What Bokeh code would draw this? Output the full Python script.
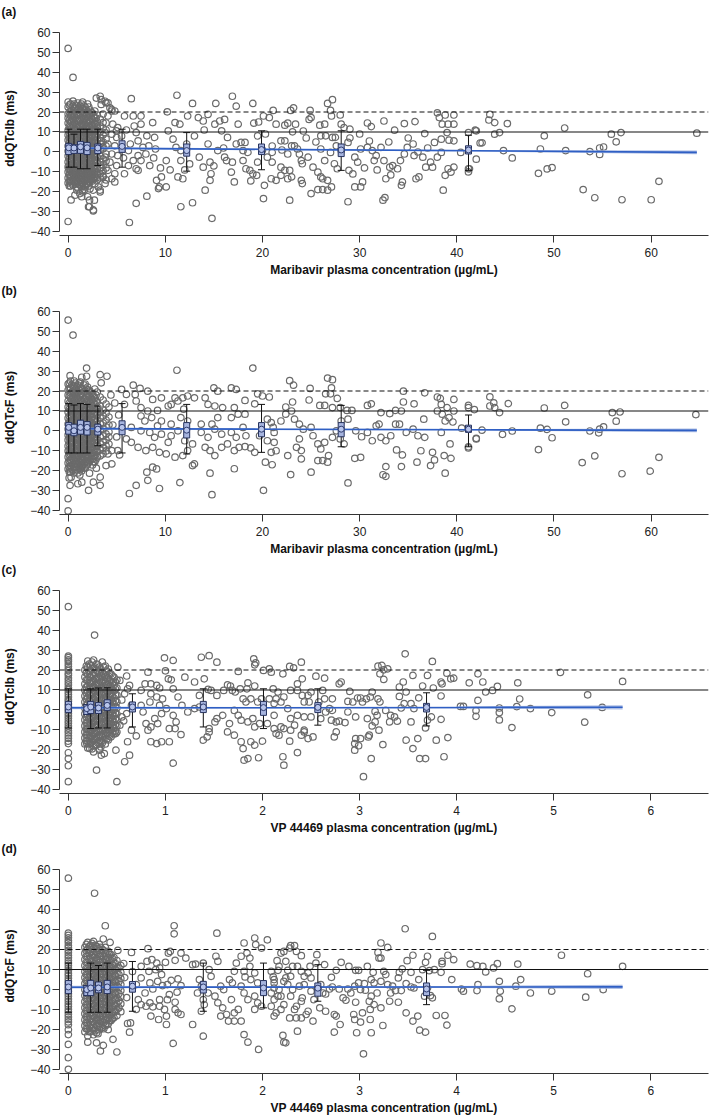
from bokeh.plotting import figure
from bokeh.layouts import column
from bokeh.models import Range1d, FixedTicker, Span
from bokeh.embed import file_html
from bokeh.resources import INLINE

FONT = "Liberation Sans"

# ---------------- Panel (a): ddQTcIb vs maribavir ----------------
a_dense = {
    0.0: [25, 22.5, 19, 17, 14.5, 11, 8.5, 6, 3, 0.5, -2, -5, -7.5, -10, -13, -15.5],
    0.25: [24, 20.5, 18, 15, 12.5, 10, 7, 4, 1.5, -1, -4, -6.5, -9, -12, -14.5, -17],
    0.5: [25.5, 23, 19.5, 16.5, 13.5, 11.5, 8, 5, 2.5, -0.5, -3, -6, -8.5, -11, -14, -16.5],
    0.75: [22, 20, 17, 14, 11, 9, 6.5, 3.5, 0, -2.5, -5.5, -8, -10.5, -13.5, -16],
    1.0: [24.5, 21, 18.5, 15.5, 12, 10, 7.5, 4.5, 1, -1.5, -4.5, -7, -9.5, -12.5, -15, -18],
    1.25: [23, 19.5, 16, 13, 11, 8, 5.5, 2, -0.5, -3.5, -6, -9, -11.5, -14, -16.5],
    1.5: [25, 21.5, 18, 15, 12.5, 9.5, 6.5, 3.5, 1, -2, -5, -7.5, -10.5, -13, -15.5, -19],
    1.75: [22.5, 19.5, 16.5, 14, 10.5, 8, 5, 2.5, -1, -4, -6.5, -9, -12, -14.5, -17.5],
    2.0: [24, 20, 17.5, 14.5, 12, 9, 6, 3, 0.5, -2.5, -5.5, -8.5, -11, -13.5, -16],
    2.25: [21, 18, 15.5, 12.5, 10, 7, 4, 1.5, -1.5, -4.5, -7.5, -10, -13, -15, -18.5],
    2.5: [19.5, 16, 13.5, 11, 8.5, 5.5, 2.5, 0, -3, -6, -9, -11.5, -14.5],
    2.75: [20.5, 17, 14, 10.5, 7.5, 4.5, 2, -1, -4, -7, -10, -12.5, -16],
    3.0: [18.5, 15, 12, 9, 6, 3.5, 0.5, -2.5, -5.5, -8.5, -11.5, -14],
    3.3: [16.5, 13, 10, 7, 4, 1, -2, -5, -8, -11, -13],
    3.6: [19, 12, 8.5, 5, 2.5, -3.5, -6.5, -9.5, -12],
    3.9: [14.5, 11, 6.5, 3, -1, -4.5, -8, -14],
}
a_dense2 = {
    0.125: [23.5, 20, 16, 13, 9.5, 7, 4.5, 1.5, -1, -3.5, -6.5, -9, -11.5, -14.5, -17],
    0.375: [21, 18.5, 15.5, 12, 9, 5.5, 3, 0, -2.5, -5, -8, -10.5, -13, -15.5],
    0.625: [24, 21.5, 18, 15, 11.5, 8.5, 6, 2, -1, -4, -7, -9.5, -12.5, -15],
    0.875: [23, 19, 16, 12.5, 10, 7.5, 4.5, 1.5, -1.5, -4, -7, -9.5, -12, -14.5, -17.5],
    1.125: [22, 20, 16.5, 13.5, 9, 6, 3, 0, -3, -5.5, -8, -11, -13.5, -16],
    1.375: [24, 20.5, 17, 14, 10.5, 7, 4.5, 1.5, -1.5, -4.5, -7, -10, -12.5, -15, -17.5],
    1.625: [23, 19.5, 16.5, 13.5, 10.5, 8, 4, 0.5, -3, -6, -9, -11.5, -14, -16.5],
    1.875: [21, 18, 15, 12, 9.5, 6.5, 3.5, 0, -2.5, -5.5, -8, -10.5, -13, -16],
    2.125: [22.5, 19, 16, 13, 10.5, 7.5, 4.5, 2, -1, -3.5, -6.5, -9.5, -12, -14.5, -17],
    2.375: [20, 17, 13.5, 11, 8, 5, 2.5, -0.5, -3, -6, -8.5, -11.5, -14],
    2.625: [18, 15, 12, 9.5, 6.5, 3.5, 1, -2, -5, -8, -10.5, -13.5],
    2.875: [17, 13.5, 11, 8, 5, 1.5, -1.5, -4.5, -7.5, -10, -13],
}
a_low = [
    (0, 51.8), (0.5, 37.3), (0, -34.8), (0.3, -24), (2, -22.4), (2.2, -24.1), (2.1, -27.4), (2.6, -29.5),
    (1.5, -20), (1.2, -20.8), (0.9, -19.1), (0.7, -21.6), (1.4, -22.4), (2.9, 27), (3.3, 27.9), (3.8, 25.4),
    (4.1, 24.6), (4.3, 22.1), (4.5, 20.5), (3.4, 23.8), (4.8, 20.5), (3.4, 26.2), (3.9, 24.6), (4.5, 21.3),
    (4.1, 18), (3.6, 14.7), (4.6, 13.9), (5.1, 12.2), (3.8, 9.7), (4.5, 8.9), (5, 7.3), (3.4, 5.6), (4.1, 4),
    (4.8, 3.1), (3.6, 1.5), (4.5, -1), (5.1, -1.8), (3.8, -2.6), (4.3, -5.1), (5, -6.8), (3.4, -7.6),
    (4.1, -9.2), (4.8, -10.9), (3.6, -12.5), (4.5, -13.4), (3.8, -15.8), (3.3, -19.1), (2.7, -24.1),
    (2.2, -27.4), (2.6, -29), (1.7, -19.1), (4.97, 10.6), (4.8, -15), (3.1, -17.5), (3.3, -20), (2.6, -19.1),
    (6.5, 26.7), (5.8, 18), (6.7, 18), (7.5, 18), (8.7, 14.7), (7.5, 13.9), (7, 9.7), (8.1, 8.1), (8.9, 7.3),
    (7.2, 5.6), (6.4, 4), (7.7, 2.3), (8.3, 3.1), (6.2, 0.7), (7.2, -1.8), (6.7, -4.3), (7.5, -4.3),
    (6.2, -6.8), (7, -8.4), (8.4, -6.8), (5.8, -10.9), (7.2, -9.2), (7, -25.7), (6.3, -35.3), (8.1, -22.1),
    (9.1, -14.2), (9.6, -12.5), (9.3, -18.3), (9.4, -17.5), (10.1, -17.5), (10.1, -4.3), (10.3, 10.6),
    (10.2, 20.1), (11.2, 28.4), (10.8, 6.4), (11, 14.7), (11.5, 13.9), (11.1, 2.3), (11.6, 0.7), (12.2, 4),
    (11.6, -4.3), (11.3, -12.5), (11.8, -13.4), (11.6, -27.4), (12.8, -25.4), (12.8, 24.3), (12.3, 18),
    (13.4, 17.2), (13.9, 15.5), (14.4, 18.8), (15.2, 24.3), (15.1, 13.9), (15.6, 15.5), (16.1, 16.3),
    (15.8, 10.6), (16.4, 7.3), (14.4, 4), (13.5, -2.6), (13.9, -7.6), (14.6, -5.1), (14.7, -10.9),
    (14.6, -14.2), (14.1, -19.1), (14.8, -33.2), (15.4, 0.7), (16.1, -2.6), (16.3, -4.3), (16.9, -5.1),
    (16.8, -10.1), (17.1, -15), (16.9, 27.9), (17.3, 22.9), (17.5, 13.9), (17.3, 4),
    (5.5, 8), (6, 11), (5.7, -3), (6.8, 13), (8, -1), (9, 1.5), (9.5, -8), (8.8, -3), (10.5, -9),
    (12.5, -6), (13, 8), (12, -9), (14, 11), (15, -7), (16, 2),
]
a_mid = [
    (19, 24.3), (21.1, 20.8), (23.2, 22.1), (22.9, 20.8), (24.9, 20.8), (26.7, 24.3), (27.2, 26.2), (27, 20.8),
    (27.1, 18), (26.4, 13.9), (28, 18.5), (25, 17.2), (20.1, 18), (20.7, 17.2), (19.1, 14.4), (19.6, 15),
    (21.4, 13.9), (22.3, 13.4), (22.6, 14.4), (23.1, 10.1), (23.4, 13.9), (24.8, 16.3), (25.9, 13.4), (26, 8.1),
    (26.5, 8.1), (27.2, 7.3), (27.5, 7.3), (28.1, 13.9), (28.4, 12.2), (29, 11.4), (30.8, 14.5), (31.2, 12.7),
    (32.5, 15.5), (33.6, 10.9), (34.6, 14.2), (35.7, 15.2), (36.7, 9.2), (38, 19.6), (38.2, 17.2), (38.5, 13.9),
    (39.1, 13.9), (39.7, 13.9), (39.7, 18.5), (38.8, 18.5), (39, 9.7), (38.4, 6.4), (39.2, 5.9), (37.7, 4.8),
    (39.7, 5.6), (40.4, -0.2), (42, 10.6), (42.4, 4.5),
    (17.8, 4.8), (18.2, 4.8), (18, 0.7), (18.5, -0.2), (18, -4.3), (18.3, -8.4), (18.7, -9.2), (19, -10.9),
    (19.4, -11.7), (18.8, -14.5), (20.2, -16.7), (20.1, -23.3), (19.5, -5.1), (20.5, -2.6), (21, -0.2),
    (21, -5.1), (20.9, -13.4), (21.4, -14.2), (21.9, 5.6), (22.3, 5.6), (22.6, -1), (23, 3.1), (23.3, 3.1),
    (23.6, 1.5), (23.8, -1), (24, -4.3), (24.1, -5.9), (21.9, -7.6), (22.3, -9.2), (22.8, -9.2), (21.9, -11.7),
    (22.6, -13.4), (23, -12.5), (22.8, -24.1), (24, -14.2), (24.1, -15.8), (25, -20.8), (24.7, -2.6),
    (25.2, -7.6), (25.7, -10.1), (26, -12.5), (26.2, -13.4), (25.7, -18.8), (26.2, -18.8), (26.7, -19.1),
    (27.1, -17.5), (26.7, -14.2), (26.4, -4.3), (27, -0.2), (27.6, 3.1), (27.4, -5.9), (27.7, -8.4),
    (28.1, 0.7), (28.8, 4.8), (28.9, -9.2), (28.8, -24.9), (29.5, -17.5), (30.1, -17.5), (29.5, -2.6),
    (29.8, -5.1), (30.3, -15), (30.1, 1.5), (30.8, 2.3), (31.3, 0.7), (31.5, -4.3), (31.7, -1.8), (32.2, 2.3),
    (32.5, -4.3), (32.7, -13.4), (32.4, -24.1), (32.6, -22.8), (33.1, -7.6), (33.4, -6.8), (33.9, -8.4),
    (34.2, -4.3), (34.3, -16.7), (34.4, -15), (34.6, -1), (34.9, 2.3), (35.6, -1.8), (35.8, -13.4),
    (36.1, -12.5), (36.5, -2.6), (36.8, -7.6), (37.3, -5.1), (37.5, -7.6), (38, -2.6), (38.4, -0.2),
    (38.8, -11.7), (38.6, -19.1), (39.4, -10.1), (39.1, -8.4), (39.7, -7.6), (41.3, -8.4),
    (19.5, 8), (20.3, 9), (21, 3), (22, 1), (24.5, 7), (25.5, 5), (26, 1.5), (29, 7), (30, 9), (31, 5.5),
    (33, 5), (35, 7), (35.5, 4), (36, 0), (37, 2), (29.3, -11), (30.5, -8), (31.8, -9), (33.2, -11.5),
    (20, 1), (24.2, 10.5),
]
a_high = [
    (41.2, 9.7), (41.2, -8.4), (41.2, -10), (41.9, 10.9), (42, -3.6), (42.6, 4.6), (43.3, 16), (43.4, 18.8),
    (43.9, 14.7), (43.9, 8.9), (44.4, 9.7), (44.8, 0.7), (45.2, 14.2), (45.7, -3), (48.4, -10.7), (48.6, 1.5),
    (49, 8.1), (49.3, -8.5), (49.8, -7.8), (51.1, 12), (51.2, 0.7), (53, -18.8), (53.7, 0.2), (54.2, -22.9),
    (54.7, 2), (54.7, -1.2), (55.1, 2.5), (55.9, 8.9), (56.4, 5.1), (56.9, 9.7), (57, -23.9), (60, -23.9),
    (60.8, -14.7), (64.7, 9.4),
]
a_bin_x = [0.06, 0.6, 1.27, 1.95, 3.05, 5.55, 12.2, 19.9, 28.1, 41.2]
a_mean = [2.1, 2.0, 2.6, 2.1, 2.0, 2.8, 0.7, 1.2, 1.0, 1.0]
a_box_lo = [-1.3, -0.7, -0.7, -1.3, -0.8, -0.2, -2.1, -1.3, -2.3, -1.0]
a_box_hi = [4.3, 3.6, 5.3, 4.8, 4.0, 5.6, 4.0, 4.0, 4.0, 3.1]
a_wh_lo = [-7.6, -7.6, -8.4, -8.4, -6.8, -7.6, -9.6, -8.9, -9.2, -9.2]
a_wh_hi = [11.4, 8.9, 11.4, 11.4, 11.4, 11.4, 9.7, 10.6, 10.6, 8.4]
a_reg_x = [0, 20, 42, 64.7]
a_reg_y = [2.0, 1.3, 0.6, -0.2]
a_reg_lo = [1.4, 0.95, 0.2, -1.1]
a_reg_hi = [2.6, 1.65, 1.0, 0.7]

# ---------------- Panel (b): ddQTcF vs maribavir ----------------
b_dense = {
    0.0: [23.5, 20.5, 18, 15, 12, 9.5, 6.5, 3.5, 1, -2, -4.5, -7.5, -10, -13, -16, -19],
    0.25: [25, 21.5, 19, 16.5, 13.5, 10.5, 8, 5, 2, -0.5, -3.5, -6, -9, -11.5, -14.5, -17.5, -20.5],
    0.5: [22.5, 20, 17, 14, 11.5, 8.5, 5.5, 3, 0, -3, -5.5, -8.5, -11, -14, -17, -19.5],
    0.75: [24, 21, 18.5, 15.5, 12.5, 9.5, 7, 4, 1.5, -1.5, -4.5, -7, -10, -12.5, -15.5, -18],
    1.0: [23, 19.5, 16.5, 13.5, 11, 8, 5, 2.5, -0.5, -3.5, -6.5, -9, -12, -14.5, -17, -21],
    1.25: [24.5, 22, 18, 15, 12.5, 9, 6, 3.5, 0.5, -2, -5, -8, -10.5, -13.5, -16, -19],
    1.5: [21, 17.5, 14.5, 11.5, 8.5, 6, 3, 0, -3, -6, -8.5, -11.5, -14, -17.5],
    1.75: [23.5, 20, 16, 13, 10, 7.5, 4.5, 1.5, -1.5, -4, -7, -10, -13, -15.5, -18.5],
    2.0: [22, 18.5, 15.5, 12, 9, 6.5, 4, 1, -2, -5, -7.5, -10.5, -13.5, -16.5],
    2.25: [20, 17, 14, 11, 8, 5, 2, -1, -4, -6.5, -9.5, -12.5, -15],
    2.5: [18.5, 15.5, 12.5, 10, 7, 4, 1.5, -2.5, -5.5, -8.5, -11, -14, -17],
    2.75: [21, 16.5, 13.5, 9.5, 6, 3, 0, -3, -6, -9.5, -12.5, -15.5],
    3.0: [19.5, 14.5, 11, 8, 5, 2, -1, -4.5, -7.5, -10.5, -13],
    3.3: [17, 12.5, 9.5, 6.5, 3.5, 0.5, -3, -6.5, -9.5, -12.5],
    3.6: [15.5, 10.5, 7.5, 4, 1, -2.5, -5.5, -8.5, -11.5],
    3.9: [13.5, 9, 5.5, 2, -1.5, -4.5, -7.5, -10],
    4.2: [12, 7, 3, -0.5, -3, -6.5],
}
b_dense2 = {
    0.125: [24, 21, 17.5, 14, 11, 7.5, 4.5, 2, -1, -3.5, -6.5, -9.5, -12, -15, -18, -20.5],
    0.375: [23, 19.5, 16, 13, 10, 7, 4, 1, -2, -5, -8, -10.5, -13.5, -16, -19],
    0.625: [25, 21.5, 18, 15, 12, 9, 6, 3, 0, -3, -6, -9, -12, -15, -18],
    0.875: [22, 19, 16, 13, 10, 7, 4.5, 1.5, -1.5, -4.5, -7.5, -10.5, -13.5, -16.5, -19.5],
    1.125: [24, 20.5, 17.5, 14.5, 11.5, 8.5, 5.5, 2.5, -1, -4, -7, -10, -12.5, -15.5, -18],
    1.375: [21.5, 18.5, 15.5, 12.5, 9.5, 6.5, 3.5, 0.5, -2.5, -5.5, -8.5, -11.5, -14.5, -17.5, -20],
    1.625: [23, 19.5, 16, 13, 10, 7, 4.5, 1.5, -1.5, -4.5, -7.5, -10, -13, -16, -18.5],
    1.875: [21, 17.5, 14.5, 11.5, 8.5, 5.5, 2.5, -0.5, -3.5, -6.5, -9.5, -12, -15, -17.5],
    2.125: [20.5, 17.5, 14.5, 11.5, 8.5, 5.5, 2.5, -0.5, -3.5, -6.5, -9.5, -12.5, -15.5],
    2.375: [19, 16, 13, 10, 7, 4, 1, -2, -5, -8, -11, -14],
    2.625: [17.5, 14.5, 11.5, 8.5, 5.5, 2.5, -0.5, -3.5, -6.5, -9.5, -12.5, -15.5],
    2.875: [18, 15, 11.5, 8, 4.5, 1.5, -1.5, -4.5, -7.5, -10.5, -14],
}
b_low = [
    (0, 55.5), (0.5, 48), (0, -33.9), (0, -40), (1.9, 31.5), (1.9, 27.4), (3.3, 28.2), (4, 27.4), (3.4, 24.1),
    (1.4, 26.9), (0.2, 27.7), (0.3, -23.1), (0.2, -27.2), (1, -26.4), (1.4, -25.6), (2.2, -21.1),
    (2.1, -29.7), (2.6, -25.6), (3.3, -27.2), (3.3, -23.1), (3.9, -17.3), (2.9, -18.6), (4.1, -11.5),
    (4.5, -9.8), (0.1, -23.5), (0.6, -21), (1.2, -22), (4.5, -16.5), (5.1, -9.8), (4.8, 14), (5.2, 8),
    (4.6, 3), (5, -3), (5.3, -12), (4.4, 18),
    (11.2, 30.4), (6.7, 22.9), (7.4, 21.3), (8.2, 19.9), (5.5, 20.8), (6, 18.3), (6.9, 18.3), (7, 15),
    (8.7, 15.8), (9.6, 16.6), (11, 16.6), (11.8, 16.6), (12.3, 17.5), (13, 16.6), (14.1, 16.6), (15, 21.6),
    (15.4, 19.9), (16.8, 21.6), (17.3, 20.8), (5.8, 13.3), (7.5, 11.7), (8.2, 10), (9.2, 10.3), (10.3, 12.5),
    (10.6, 13.3), (11.3, 15), (11.9, 10.9), (14.4, 13.3), (15.1, 12.5), (15.9, 11.7), (17.1, 11.7),
    (7.5, 7.5), (8.6, 6.7), (9.6, 5), (10.6, 3.4), (7.9, 5), (9.2, 2.6), (11.6, 6.7), (12.3, 5), (13.7, 3.4),
    (14.8, 3.4), (15.4, 6.7), (16.8, 6.7), (17.5, 8.4), (6.5, 1.8), (7.5, 0.1), (8.4, -0.7), (9.6, -1.6),
    (10.6, -2.4), (11.3, 0.1), (8.9, -3.2), (10.3, -5.7), (12, -4.9), (12.8, -6.5), (13.7, -0.7),
    (14.4, -3.2), (15.1, 0.9), (15.8, -1.6), (16.8, -0.7), (17.3, -3.2), (6, -4), (6.5, -5.7), (7.2, -8.2),
    (8, -9.8), (8.7, -8.2), (9.4, -10.7), (10.1, -11.5), (11, -13.1), (11.8, -12.3), (12.3, -9.8),
    (13, -16.5), (12.8, -17.3), (14.1, -8.2), (14.6, -9.8), (15.1, -12.3), (15.8, -8.2), (16.4, -6.5),
    (17.1, -9.8), (17.6, -8.2), (8.1, -20.6), (8.7, -18.1), (9.1, -19), (9.4, -28.8), (8.2, -24.7),
    (7, -27.2), (6.3, -31.3), (11.5, -25.8), (14.6, -21.1), (14.8, -31.9), (17.1, -18.9),
]
b_mid = [
    (19, 31.5), (22.8, 25.2), (23.2, 22.9), (24.9, 21.3), (26.7, 26.5), (27.2, 25.7), (27.1, 21.6), (27, 18.6),
    (26.5, 18.6), (27.7, 16.3), (19.5, 18.6), (20, 17.5), (20.7, 17), (24.8, 15.5), (34.5, 19.9), (36.7, 19.1),
    (38, 17), (38.3, 16.3), (39.7, 15.8), (34.5, 14.5), (35.6, 13.6), (19.2, 13.6), (18.2, 15.3), (22.4, 12),
    (23.1, 14.5), (25.9, 12.8), (26.4, 12.8), (27.2, 11.7), (28, 11.7), (28.7, 10.3), (29.2, 10.3),
    (30.8, 12.8), (31.2, 13.6), (32.2, 9.2), (33.1, 8.7), (33.7, 10.3), (34.3, 10), (38.4, 13.3), (38, 10),
    (38.5, 8.4), (39, 11.7), (39.2, 6.7), (38.8, 5), (39.6, 4.5), (39.7, 10), (18.2, 8.4), (18, 1.8),
    (18.3, -2.4), (18.2, -7.8), (18.8, -8.5), (19.2, -10.7), (19.7, -2.4), (20.5, 5.9), (20.9, 4.2),
    (21.1, 1.8), (21.2, -0.7), (20.5, -4.9), (21.2, -5.7), (20.9, -10.7), (21.4, -9.9), (20.3, -15.6),
    (21, -16.9), (20.1, -29.7), (21.9, 5), (22.4, 8.4), (23, 10), (23.3, 5.9), (23.8, 3.4), (24.2, 0.9),
    (23.8, -4), (23.5, -8.2), (24, -9.8), (24, -14), (22.6, -12.3), (22.9, -21.8), (25, 1.8), (25.2, -2.4),
    (25.7, -6.5), (26, -9), (26.4, -5.7), (26.8, -12.3), (26.2, -14.8), (25.7, -14.8), (26.7, -15.6),
    (25, -20.6), (27.2, -3.2), (27.6, 0.1), (28, -4), (28.1, 5), (28.8, 5.9), (28.4, -6.5), (28.8, -26),
    (29.5, -13.7), (30.1, -13.2), (29.6, 0.1), (30.2, -2.9), (30.8, -0.7), (31.3, -4.9), (31.7, 2.6),
    (32, 3.4), (32.2, -3.2), (32.7, -4.9), (32.4, -21.9), (32.7, -22.7), (32.7, -17.8), (33.2, -2.4),
    (33.7, 3.4), (34.1, 3.4), (33.8, -9.5), (34.4, -12), (34.3, -17.8), (34.8, -0.7), (35.5, 0.9),
    (36, -2.4), (35.9, -15.6), (36.3, -9.9), (36.6, 5.9), (36.7, -3.2), (37.3, -17.3), (37.5, -10.7),
    (37.7, -14.5), (38.4, -0.7), (38.7, -12.3), (39.3, -6.5), (38.8, -21.1), (39.4, -13.7), (40.5, 1.4),
    (42, -3.7),
]
b_high = [
    (41.2, 12.8), (41.2, 11.7), (41.2, -7.9), (41.2, -8.5), (41.8, 10.7), (42, -4), (42.6, 0.4),
    (43.4, 17.1), (43.4, 12.5), (43.8, 14.1), (43.9, 11.7), (44.4, 9.2), (44.7, -1.7), (45.3, 13.7),
    (45.7, 0), (48.4, -9.3), (48.6, 1.4), (49, 11.5), (49.3, 0.8), (49.8, -3.4), (51.1, 12.8), (51.2, 4.6),
    (52.9, -15.8), (53.7, 0), (54.2, -12.5), (54.6, -0.9), (54.7, 0.9), (55.1, 2.1), (56, 9.2), (56.4, 4.9),
    (56.8, 9.5), (57, -21.4), (59.9, -20.1), (60.8, -13.2), (64.6, 8.2),
]
b_bin_x = [0.06, 0.6, 1.27, 1.95, 3.05, 5.55, 12.2, 19.9, 28.1, 41.2]
b_mean = [1.8, 0.1, 1.8, 1.8, 0.9, 1.8, 0.4, 0.9, 0.9, 0.9]
b_box_lo = [-1.6, -2.4, -1.6, -2.0, -2.0, -1.9, -3.5, -2.9, -2.9, -0.7]
b_box_hi = [4.2, 3.4, 5.4, 4.7, 3.4, 5.1, 4.2, 4.2, 4.2, 2.9]
b_wh_lo = [-11, -11, -11, -11, -7.4, -11, -11.5, -10.7, -7.9, -7.9]
b_wh_hi = [13.7, 13, 13.7, 13.3, 12.5, 13.7, 13.3, 13.3, 12.8, 8]
b_reg_x = [0, 20, 42, 64.7]
b_reg_y = [1.2, 0.9, 0.6, 0.3]
b_reg_lo = [0.6, 0.55, 0.2, -0.6]
b_reg_hi = [1.8, 1.25, 1.0, 1.2]

# ---------------- Panel (c): ddQTcIb vs VP 44469 ----------------
c_dense = {
    0.0: [27, 26.2, 25.1, 24.3, 23, 21.8, 20.5, 19.7, 18.2, 17.4, 16, 14.9, 13.6, 12.5, 11.1, 10.3, 9, 7.8,
          6.5, 5.2, 4.4, 3, 1.9, 0.6, -0.5, -1.8, -3, -4.2, -5.5, -6.6, -8, -9.1, -10.4, -11.5, -12.9,
          -14.2, -15.6, -16.8, 51.7, -21.4, -24.3, -27.9, -35.9],
    0.17: [20, 16.5, 13, 10, 7, 4, 1, -2, -5, -8, -11, -14, -17],
    0.20: [24.5, 21.5, 18, 15, 12, 9, 6, 3, 0, -3, -6.5, -9.5, -12.5, -15.5, -19],
    0.23: [22.5, 19.5, 16.5, 13.5, 10.5, 7.5, 4.5, 1.5, -1.5, -4.5, -7.5, -10.5, -13.5, -16.5],
    0.26: [25, 21, 17.5, 14.5, 11.5, 8.5, 5.5, 2.5, -0.5, -3.5, -6, -9, -12, -15, -18, -21],
    0.29: [23, 20, 16, 13, 10, 7, 4, 1, -2, -5, -8, -11, -14, -17.5],
    0.32: [21.5, 18.5, 15, 12, 9, 6, 3, 0, -3, -6, -9.5, -12.5, -15.5, -19.5],
    0.35: [24, 19, 16.5, 13.5, 10.5, 7.5, 4.5, 1.5, -1.5, -4.5, -7.5, -10.5, -13.5, -16.5],
    0.38: [22, 17.5, 14, 11, 8, 5, 2, -1, -4, -7, -10, -13, -17],
    0.41: [20.5, 16, 12.5, 9.5, 6.5, 3.5, 0.5, -2.5, -5.5, -8.5, -11.5, -15],
    0.44: [18, 14.5, 11, 8, 5, 2, -1, -4, -7, -10, -13.5],
    0.47: [16.5, 12.5, 9.5, 6, 3, 0, -3, -6, -9, -12],
    0.50: [15, 11, 7.5, 4, 1, -2, -5, -8, -11],
}
c_dense2 = {
    0.185: [22, 18.5, 15, 11.5, 8.5, 5.5, 2.5, -0.5, -3.5, -6.5, -9.5, -12.5, -15.5],
    0.215: [23, 19.5, 16.5, 13.5, 10.5, 7.5, 4.5, 1.5, -1.5, -4.5, -8, -11, -14, -17],
    0.245: [24, 20.5, 17.5, 14, 11, 8, 5, 2, -1, -4, -7, -10, -13, -16, -19.5],
    0.275: [21.5, 18.5, 15.5, 12.5, 9.5, 6.5, 3.5, 0.5, -2.5, -5.5, -8.5, -11.5, -14.5, -17.5],
    0.305: [22.5, 19.5, 16.5, 13.5, 10.5, 7.5, 4.5, 1.5, -1.5, -4.5, -7.5, -10.5, -13.5, -16.5],
    0.335: [20.5, 17, 14, 11, 8, 5, 2, -1, -4, -7, -10, -13, -16, -18.5],
    0.365: [21.5, 18, 15, 12, 9, 6, 3, 0, -3, -6, -9, -12, -15],
    0.395: [19.5, 16, 12.5, 9.5, 6.5, 3.5, 0.5, -2.5, -5.5, -8.5, -11.5, -14.5],
    0.425: [18, 14.5, 11, 8, 5, 2, -1, -4, -7, -10, -13],
    0.455: [17, 13, 10, 7, 4, 1, -2, -5, -8, -11.5],
    0.485: [14, 10.5, 7.5, 4.5, 1.5, -1.5, -4.5, -7.5, -10.5],
}
c_low = [
    (0.27, 37.5), (0.99, 26.1), (1.08, 24.8), (1.37, 26.4), (1.45, 27.2), (1.53, 23.9), (1.91, 25.6),
    (1.93, 23.6), (2.01, 19.8), (2.07, 20.6), (1.92, 22.6), (1.75, 19.3), (1.0, 19.6), (0.82, 18.9),
    (1.2, 16.4), (1.3, 14), (0.79, 13.1), (0.85, 13.1), (0.91, 12.3), (0.94, 11), (1.03, 15.6), (1.06, 15.1),
    (1.08, 10.6), (0.75, 9.8), (0.85, 8.1), (1.13, 6.5), (1.17, 2.3), (1.23, -1), (1.3, 0.7), (1.35, 1.5),
    (1.35, 7.3), (1.44, 10.3), (1.47, 9.8), (1.4, 15.6), (1.53, 7.3), (1.6, 9.8), (1.64, 12.6), (1.67, 12),
    (1.69, 9.8), (1.72, 9), (1.77, 10.6), (1.85, 13.6), (1.84, 10.6), (1.92, 12), (1.8, 5.6), (1.83, 4),
    (1.88, 5.6), (1.95, 4), (1.99, 5.6), (2.07, 5.6), (2.11, 10.6), (1.71, -0.2), (1.75, -2.7), (1.78, -5.1),
    (1.85, -6), (1.9, -4.3), (1.92, -8.5), (1.97, -6.8), (2.05, -6.8), (1.66, -6.8), (1.59, -2.7),
    (1.53, -4.3), (1.51, -6), (1.45, -9.3), (1.39, -15.1), (1.43, -13.5), (1.45, -11), (1.64, -11),
    (1.71, -12.6), (1.78, -15.9), (1.8, -19.3), (1.81, -25.1), (1.85, -24.3), (1.96, -23.9), (1.88, -15.9),
    (1.92, -17.6), (2.0, -15.6), (1.08, -26.6), (0.96, -15.9), (0.91, -16.8), (0.85, -15.9), (1.04, -15.9),
    (1.16, -12.3), (1.1, -9.3), (1.04, -9.3), (1.11, -6), (1.08, -2.7), (0.96, -1.8), (0.89, -4.3),
    (0.92, -6.8), (0.85, -8.5), (0.82, -10.1), (0.8, -6.8), (0.77, -1), (0.75, 2.3), (0.84, 4), (0.94, 2.3),
    (0.97, 5.6), (1.01, 0.7), (0.91, 6.5), (0.65, 2.3), (0.61, -15.9), (0.63, -22.6), (0.58, -25.9),
    (0.5, -35.9), (0.65, -10.1), (0.55, -3.5), (0.6, -1.8), (0.61, 10.6), (0.63, 12.3), (0.58, 8.1),
    (0.53, 14.8), (0.51, 21.4), (0.46, 14), (0.43, -9.3), (0.49, -11.8), (0.53, -7.6), (0.49, -20.1),
    (0.29, -30.1), (0.34, -22.6), (0.37, -21.8), (0.32, -20.1), (0.2, -9.3), (0.19, -16.8), (0.22, -19.3),
    (0.55, 5), (0.57, -5.5), (0.6, 17), (0.7, -13),
]
c_high = [
    (3.47, 28.1), (3.75, 24.3), (2.28, 21.8), (2.32, 21.1), (2.4, 23.9), (2.09, 18.9), (2.21, 18.1),
    (3.19, 21.9), (3.23, 22.3), (3.29, 20.6), (3.25, 20.1), (3.21, 18.1), (3.25, 15.3), (3.55, 17.3),
    (3.7, 17.3), (3.9, 18.4), (3.94, 15.6), (3.97, 15.9), (3.84, 14), (3.85, 13.1), (3.65, 12), (3.76, 11),
    (3.45, 14), (3.41, 11.5), (3.48, 9), (3.41, 6.8), (3.61, 6.1), (3.84, 7), (4.22, 18.1), (4.13, 13.6),
    (4.27, 14), (4.3, 9), (4.37, 9.8), (4.42, 11.8), (4.63, 13.6), (4.65, 5.5), (4.22, 4.8), (5.07, 18.8),
    (5.71, 14.3), (5.35, 7.6), (5.5, 1.3), (4.98, -1.3), (4.76, 0.7), (4.62, 1.7), (4.44, 1), (4.44, -1.3),
    (4.44, -5), (4.2, -0.3), (4.2, -3.2), (4.57, -8.8), (5.32, -6.1), (4.07, 1.8), (4.04, 1.8), (3.84, -4.7),
    (3.91, -13.8), (3.87, -23.4), (3.79, -15.1), (3.68, -9), (3.74, -3.5), (3.7, -5.1), (3.6, -14.3),
    (3.55, -19.3), (3.48, -15.1), (3.62, -24.3), (3.68, -24.3), (3.53, -6), (3.56, 0.7), (3.53, 3.2),
    (3.46, 3.2), (3.43, 1), (3.39, -5.6), (3.36, -3.5), (3.32, -2.7), (3.31, -6), (3.27, -0.2), (3.24, -17.3),
    (3.19, 5.6), (3.21, 4), (3.16, -0.7), (3.18, -2.7), (3.2, -10.1), (3.16, -6), (3.13, -8), (3.12, -24.3),
    (3.1, -12.6), (3.09, -13.5), (3.08, -4.3), (3.13, 9), (3.11, 6.5), (3.07, 5.6), (3.03, 4), (3.01, -14.3),
    (2.99, -17.9), (2.95, -16.8), (2.96, -14.3), (2.95, -20.1), (3.04, -33.4), (3.01, 6), (2.98, 6),
    (2.96, -3.5), (2.93, 4), (2.9, 9.3), (2.88, 4.3), (2.88, -1), (2.81, 14), (2.79, 13.1), (2.72, 5.6),
    (2.72, -0.2), (2.79, -5.6), (2.85, -6.3), (2.76, -6), (2.76, -11), (2.74, -13.5), (2.71, -5.1),
    (2.65, -1), (2.64, 5.6), (2.69, 0.7), (2.62, 9.8), (2.6, -4.3), (2.58, 4), (2.64, 15.9), (2.55, 16.9),
    (2.5, -3.5), (2.52, -13.5), (2.47, -14.3), (2.43, -11), (2.41, 15.6), (2.36, 13.1), (2.36, -21.3),
    (2.22, -27.6), (2.21, -23.4), (2.28, -15.6), (2.17, -12.6), (2.14, -11.8), (2.12, -9.3), (2.19, -8.5),
    (2.22, -9.3), (2.29, -10.1), (2.4, -12.6), (2.43, -10.1), (2.33, -7.6), (2.36, -2.7), (2.43, -3.5),
    (2.29, -4.3), (2.26, 0.7), (2.19, 4), (2.14, 5.6), (2.22, 6.5), (2.29, 9.8), (2.36, 9.8), (2.41, 7.3),
    (2.43, 4), (2.47, 7.3), (2.5, 9), (2.48, 4), (2.16, 9), (2.12, 3.2), (2.12, -2.7),
]
c_bin_x = [0.0, 0.19, 0.23, 0.31, 0.40, 0.66, 1.39, 2.01, 2.57, 3.69]
c_mean = [1.5, 0.7, 1.5, 1.0, 2.3, 1.5, 1.5, 1.2, 1.3, 1.3]
c_box_lo = [-1.3, -2.3, -1.8, -1.8, -0.2, -1.0, -1.3, -2.7, -1.3, -1.0]
c_box_hi = [4.3, 2.7, 4.3, 3.7, 5.1, 4.0, 4.3, 4.3, 3.7, 3.3]
c_wh_lo = [-9.0, -2.3, -9.3, -9.0, -9.0, -8.5, -8.5, -9.3, -7.6, -8.0]
c_wh_hi = [10.6, 2.7, 10.6, 11.0, 11.1, 8.1, 10.6, 10.6, 10.6, 8.6]
c_reg_x = [0, 2, 4, 5.71]
c_reg_y = [1.1, 1.15, 1.25, 1.35]
c_reg_lo = [0.4, 0.8, 0.75, 0.3]
c_reg_hi = [1.8, 1.5, 1.75, 2.4]

# ---------------- Panel (d): ddQTcF vs VP 44469 ----------------
d_dense = {
    0.0: [28.1, 27, 25.8, 24.5, 23.4, 22, 20.9, 19.5, 18.3, 17, 15.8, 14.5, 13.2, 12, 10.7, 9.5, 8.1, 7,
          5.6, 4.3, 3.1, 1.8, 0.5, -0.8, -2.1, -3.3, -4.7, -5.9, -7.2, -8.4, -9.8, -11, -12.3, -13.6,
          -14.9, -16.1, -17.5, -20, -22.4, 55.5, -27.3, -33.9, -39.7],
    0.17: [21, 18, 15, 12, 9, 6, 3, 0, -3, -6, -9, -12, -15, -18, -21],
    0.20: [23.5, 20, 16.5, 13.5, 10.5, 7.5, 4.5, 1.5, -1.5, -4.5, -7.5, -10.5, -13.5, -16.5, -19.5, -23],
    0.23: [22, 19, 15.5, 12.5, 9.5, 6.5, 3.5, 0.5, -2.5, -5.5, -8.5, -11.5, -14.5, -17.5, -21],
    0.26: [24, 20.5, 17.5, 14, 11, 8, 5, 2, -1, -4, -7, -10, -13, -16, -19, -22.5],
    0.29: [21.5, 18.5, 15, 12, 9, 6, 3, 0, -3, -6, -9, -12, -15, -18, -21.5],
    0.32: [22.5, 19.5, 16.5, 13.5, 10.5, 7.5, 4.5, 1.5, -1.5, -4.5, -7.5, -10.5, -13.5, -17, -20],
    0.35: [20, 17, 14, 11, 8, 5, 2, -1, -4, -7, -10, -13, -16, -19],
    0.38: [21, 18, 15, 12, 9, 6, 3, 0, -3, -6, -9, -12, -15, -18],
    0.41: [19, 16, 13, 10, 7, 4, 1, -2, -5, -8, -11, -14, -17],
    0.44: [17.5, 14.5, 11.5, 8.5, 5.5, 2.5, -0.5, -3.5, -6.5, -9.5, -12.5, -15.5],
    0.47: [16, 13, 10, 7, 4, 1, -2, -5, -8, -11, -14],
    0.50: [14.5, 11, 8, 5, 2, -1, -4, -7, -10, -13],
    0.54: [12, 8.5, 5.5, 2.5, -0.5, -3.5, -7, -11],
}
d_dense2 = {
    0.185: [22.5, 19.5, 16.5, 13.5, 10.5, 7.5, 4.5, 1.5, -1.5, -4.5, -7.5, -10.5, -13.5, -16.5, -19.5],
    0.215: [21.5, 18, 15, 12, 9, 6, 3, 0, -3, -6, -9, -12, -15, -18, -21],
    0.245: [23, 20, 17, 14, 11, 8, 5, 2, -1, -4, -7, -10, -13, -16, -19.5],
    0.275: [22, 19, 16, 13, 10, 7, 4, 1, -2, -5, -8, -11, -14, -17, -20.5],
    0.305: [20.5, 17.5, 14.5, 11.5, 8.5, 5.5, 2.5, -0.5, -3.5, -6.5, -9.5, -12.5, -15.5, -18.5, -22],
    0.335: [21, 18, 15, 12, 9, 6, 3, 0, -3, -6, -9, -12, -15, -18.5],
    0.365: [19.5, 16.5, 13.5, 10.5, 7.5, 4.5, 1.5, -1.5, -4.5, -7.5, -10.5, -13.5, -16.5, -19.5],
    0.395: [18, 15, 12, 9, 6, 3, 0, -3, -6, -9, -12, -15, -17.5],
    0.425: [17.5, 14.5, 11.5, 8.5, 5.5, 2.5, -0.5, -3.5, -6.5, -9.5, -12.5, -15.5],
    0.455: [15.5, 12.5, 9.5, 6.5, 3.5, 0.5, -2.5, -5.5, -8.5, -11.5, -14.5],
    0.485: [13, 10, 7, 4, 1, -2, -5, -8, -11],
    0.52: [11, 7.5, 4, 1, -2, -5.5, -9],
}
d_low = [
    (0.27, 48), (0.38, 31.8), (0.36, 25.2), (0.43, 23.5), (0.51, 19.5), (0.2, -26.2), (0.33, -30.6),
    (0.36, -27.8), (0.29, -26.5), (0.5, -31.1), (0.46, -24.8), (0.41, -19.9), (0.63, -21.2), (0.61, -16.9),
    (1.09, 31.8), (1.09, 27.8), (1.53, 28.1), (0.82, 20.4), (0.65, 18.5), (1.03, 18.2), (1.05, 19),
    (1.16, 18.2), (1.21, 15.7), (1.1, 14.6), (1.0, 13.6), (0.86, 14.9), (0.81, 14.1), (0.75, 11.6),
    (0.83, 9.1), (0.91, 13.2), (0.9, 9.9), (0.94, 10.8), (0.96, 7.5), (0.92, 4.1), (0.84, 3.3), (0.75, 5.8),
    (0.7, 2.5), (0.79, -1.7), (0.87, 0.3), (0.97, 2), (1.02, 2.5), (1.06, 4.6), (1.13, 5.3), (1.16, 2),
    (1.12, -1.3), (1.04, -2.5), (1.02, -5), (1.1, -6.3), (1.1, -9.9), (1.13, -11.6), (1.16, -12.4),
    (0.99, -9.9), (1.01, -13.2), (0.94, -8.3), (0.87, -8.6), (0.8, -8.3), (0.84, -6.6), (0.75, -7.5),
    (0.85, -13.2), (0.93, -14.9), (1.01, -17.4), (1.08, -26.8), (0.94, -5), (0.72, -5), (0.7, -9.9),
    (0.64, -16.6), (1.28, -17.4), (1.28, 12.4), (1.31, 12.7), (1.39, 13.2), (1.35, 5), (1.37, 1.7),
    (1.33, -1.7), (1.39, -5), (1.4, -7.5), (1.44, -1.7), (1.45, 9.9), (1.47, 6.6), (1.52, 16.6),
    (1.54, 14.1), (1.57, 1.7), (1.6, 0), (1.51, -3.3), (1.54, -6.6), (1.59, -9.1), (1.63, -12.4),
    (1.57, -13.2), (1.39, -23.2), (1.37, -10.8), (1.68, -5), (1.71, -11.6), (1.75, -9.9), (1.78, -15.7),
    (1.71, -15.7), (1.65, -15.7), (1.66, 5), (1.69, 3.3), (1.71, 9.1), (1.73, 13.2), (1.78, 16.6),
    (1.81, 23.2), (1.92, 25.7), (1.93, 22.4), (1.99, 20.7), (2.05, 24.8), (1.84, 18.2), (1.87, 15.7),
    (1.87, 11.6), (1.81, 9.1), (1.82, 6.3), (1.88, 5), (1.92, 8.3), (1.95, 3.3), (1.78, 1.7), (1.81, -1.7),
    (1.85, -5), (1.92, -3.3), (1.95, -6.6), (1.92, -9.9), (1.99, -8.3), (1.81, -22.4), (1.85, -26.2),
    (1.96, -29.8), (0.58, 6), (0.6, -4), (0.57, 13), (0.66, 9),
]
d_high = [
    (2.09, -8.3), (2.12, -5), (2.14, -11.6), (2.19, -9.9), (2.16, -3.3), (2.12, 0.8), (2.12, 5),
    (2.17, 11.6), (2.24, 14.1), (2.19, 18.2), (2.28, 20.7), (2.21, -22.8), (2.24, -26.5), (2.36, -20.7),
    (2.35, -14.1),
    (2.29, 21.9), (2.33, 21.9), (2.35, 19), (2.22, 19), (2.4, 16.9), (2.15, 14.4), (2.56, 17.4),
    (2.81, 13.6), (2.89, 11.6), (2.96, 9.6), (2.99, 9.6), (2.76, 9.6), (2.71, 6.1), (2.64, 12.4),
    (2.55, 13.2), (2.49, 11.6), (2.47, 8.3), (2.4, 9.1), (2.36, 11.6), (2.31, 11.6), (2.26, 9.6),
    (2.16, 9.6), (2.09, 9.1), (2.11, 6.3), (2.12, 3.3), (2.09, -1.7), (2.12, -13.2), (2.22, -7.5),
    (2.28, -14.1), (2.22, -26.2), (2.33, -9.9), (2.35, -8.3), (2.4, -5.8), (2.41, -4.1), (2.4, -14.1),
    (2.45, -12.4), (2.47, -10.8), (2.52, -15.7), (2.59, -9.1), (2.53, -5), (2.62, -1.7), (2.65, -2.2),
    (2.65, -10.8), (2.74, -12.4), (2.76, -13.2), (2.74, -21.2), (2.8, -17.4), (2.86, -5.3), (2.83, -4.1),
    (2.79, 0.3), (2.88, 0.3), (2.91, -1.7), (2.95, 1.7), (2.96, -6.3), (2.94, -12.4), (2.95, -14.9),
    (3.01, -16.2), (3.03, -11.6), (2.97, -21.5), (3.04, -32), (3.1, -5.8), (3.12, -21.5), (3.11, -14.9),
    (3.11, -9.9), (3.12, -3.3), (3.15, -7.5), (3.18, -1.7), (3.12, 5), (3.15, 3.3), (3.19, 18.5), (3.2, 15.7),
    (3.14, 8.6), (3.08, 11.6), (3.05, 3), (2.99, 3.3), (3.01, 0), (3.06, -0.3), (2.72, 1.3), (2.69, 0.3),
    (2.6, 2.5), (2.57, 0.8), (2.5, -0.8), (2.43, 2.5), (2.38, 1.7), (2.31, 0), (2.26, 2.5), (2.22, 4.1),
    (2.17, 0), (2.19, -3.3), (2.29, -3.3), (2.24, 5.8), (2.29, 6.6), (2.43, 6.6), (2.5, 5.8),
    (3.47, 30.3), (3.75, 26.5), (3.22, 23.2), (3.29, 21), (3.22, 15.7), (3.55, 17.1), (3.49, 14.4),
    (3.7, 16.6), (3.68, 13.6), (3.85, 14.1), (3.85, 12.9), (3.91, 17.1), (3.97, 14.9), (3.84, 8.6),
    (3.77, 9.9), (3.65, 9.9), (3.53, 8.6), (3.44, 10.3), (3.41, 8.6), (3.4, 5.8), (3.25, 9.1), (3.27, 7.5),
    (3.22, 4.1), (3.29, 2.5), (3.34, 1.7), (3.37, -0.5), (3.43, -0.5), (3.32, -1.7), (3.48, 3), (3.53, 1.3),
    (3.56, 0.8), (3.61, 5), (3.95, 5), (4.05, 0.3), (4.07, -0.8), (4.14, 12.7), (4.21, 11.9), (4.27, 11.6),
    (4.3, 8.8), (4.38, 10.8), (4.42, 12.9), (4.22, 2.5), (4.21, -0.5), (4.44, 4.1), (4.45, -0.8),
    (4.44, -4.6), (4.63, 12.7), (4.66, 5), (4.61, 1.7), (4.57, -9.6), (4.76, -1.7), (4.98, -0.8),
    (5.08, 17.1), (5.35, 7.9), (5.33, -3.8), (5.51, 0), (5.71, 11.6), (3.72, 9.4), (3.22, -9.1),
    (3.24, -17.9), (3.31, -5.8), (3.4, -6.3), (3.48, -11.6), (3.55, -15.7), (3.6, -13.2), (3.62, -20.2),
    (3.68, -21.2), (3.73, -3), (3.75, -4.1), (3.79, -12.9), (3.88, -12.9), (3.9, -17.7), (3.7, 0.8),
    (3.67, -3.3),
]
d_bin_x = [0.0, 0.19, 0.23, 0.31, 0.40, 0.66, 1.39, 2.01, 2.57, 3.69]
d_mean = [1.3, 0.0, 0.8, 0.8, 1.3, 1.7, 1.3, 0.8, 0.7, 0.3]
d_box_lo = [-2.0, -3.0, -3.0, -1.6, -2.0, -1.3, -1.7, -3.0, -3.3, -3.0]
d_box_hi = [4.5, 2.0, 4.6, 3.8, 4.6, 4.0, 4.1, 4.5, 3.3, 3.3]
d_wh_lo = [-11.3, -3.0, -11.3, -11.3, -11.3, -10.8, -10.8, -9.1, -5.8, -7.5]
d_wh_hi = [13.2, 2.0, 13.2, 12.0, 13.2, 14.0, 13.2, 13.2, 12.4, 9.6]
d_reg_x = [0, 2, 4, 5.71]
d_reg_y = [1.2, 1.25, 1.3, 1.35]
d_reg_lo = [0.5, 0.9, 0.8, 0.3]
d_reg_hi = [1.9, 1.6, 1.8, 2.4]

y_ticks = [-40, -30, -20, -10, 0, 10, 20, 30, 40, 50, 60]
mar_ticks = [0, 10, 20, 30, 40, 50, 60]
vp_ticks = [0, 1, 2, 3, 4, 5, 6]


def expand(*dicts):
    xs, ys = [], []
    for cols in dicts:
        for x, yl in cols.items():
            xs += [x] * len(yl)
            ys += yl
    return xs, ys


def make_panel(tag, ylabel, xlabel, xr, xticks, dense, pts_lists, reg, boxes, height, bottom):
    p = figure(width=709, height=height, output_backend="svg", toolbar_location=None,
               x_range=Range1d(*xr), y_range=Range1d(-41.8, 65.3),
               min_border_left=58, min_border_right=1, min_border_top=20, min_border_bottom=bottom)
    p.outline_line_color = None
    p.xgrid.visible = False
    p.ygrid.visible = False
    p.title.text = tag
    p.title.align = "left"
    p.title.offset = -58
    p.title.standoff = 5
    p.title.text_font = FONT
    p.title.text_font_size = "12px"
    p.title.text_font_style = "bold"
    p.title.text_color = "#111111"

    xs, ys = expand(*dense)
    for lst in pts_lists:
        xs += [t[0] for t in lst]
        ys += [t[1] for t in lst]
    p.scatter(xs, ys, size=6.5, fill_color=None, line_color="#6a6a6a", line_width=1.2)

    p.add_layout(Span(location=20, dimension="width", line_color="#111111", line_width=1.1, line_dash="5 3"))
    p.add_layout(Span(location=10, dimension="width", line_color="#111111", line_width=1.1))

    rx, ry, rlo, rhi = reg
    p.varea(x=rx, y1=rlo, y2=rhi, fill_color="#9fb3e0", fill_alpha=0.85)
    p.line(rx, ry, line_color="#2f5fc4", line_width=1.6)

    bx, bm, blo, bhi, wlo, whi = boxes
    p.segment(x0=bx, y0=wlo, x1=bx, y1=whi, line_color="#111111", line_width=1)
    p.scatter(bx + bx, wlo + whi, marker="dash", size=7, line_color="#111111", line_width=1)
    mids = [(a + b) / 2 for a, b in zip(blo, bhi)]
    hts = [b - a for a, b in zip(blo, bhi)]
    p.rect(x=bx, y=mids, width=6, width_units="screen", height=hts,
           fill_color="#a6b4de", line_color="#27335e", line_width=1)
    p.scatter(bx, bm, size=6, fill_color="#b9c6ec", line_color="#2d3b6e", line_width=1)

    for ax in (p.xaxis[0], p.yaxis[0]):
        ax.axis_line_color = "#333333"
        ax.axis_line_width = 1
        ax.major_tick_line_color = "#333333"
        ax.major_tick_in = 0
        ax.major_tick_out = 7
        ax.minor_tick_line_color = None
        ax.major_label_text_font = FONT
        ax.major_label_text_font_size = "12px"
        ax.major_label_text_color = "#222222"
        ax.axis_label_text_font = FONT
        ax.axis_label_text_font_size = "12px"
        ax.axis_label_text_font_style = "bold"
        ax.axis_label_text_color = "#111111"
    p.yaxis.ticker = FixedTicker(ticks=y_ticks)
    p.yaxis.bounds = (-40, 60)
    p.yaxis.major_label_overrides = {t: ("\u2212%d" % -t if t < 0 else str(t)) for t in y_ticks}
    p.yaxis.major_label_standoff = 2
    p.yaxis.axis_label_standoff = 10
    p.yaxis.axis_label = ylabel
    p.xaxis.ticker = FixedTicker(ticks=xticks)
    p.xaxis.major_label_standoff = 5
    p.xaxis.axis_label_standoff = 3
    p.xaxis.axis_label = xlabel
    return p


pa = make_panel("(a)", "ddQTcIb (ms)", "Maribavir plasma concentration (\u00b5g/mL)", (-0.89, 65.9), mar_ticks,
                [a_dense, a_dense2], [a_low, a_mid, a_high], (a_reg_x, a_reg_y, a_reg_lo, a_reg_hi),
                (a_bin_x, a_mean, a_box_lo, a_box_hi, a_wh_lo, a_wh_hi), 279, 43)
pb = make_panel("(b)", "ddQTcF (ms)", "Maribavir plasma concentration (\u00b5g/mL)", (-0.89, 65.9), mar_ticks,
                [b_dense, b_dense2], [b_low, b_mid, b_high], (b_reg_x, b_reg_y, b_reg_lo, b_reg_hi),
                (b_bin_x, b_mean, b_box_lo, b_box_hi, b_wh_lo, b_wh_hi), 279, 43)
pc = make_panel("(c)", "ddQTcIb (ms)", "VP 44469 plasma concentration (\u00b5g/mL)", (-0.0916, 6.595), vp_ticks,
                [c_dense, c_dense2], [c_low, c_high], (c_reg_x, c_reg_y, c_reg_lo, c_reg_hi),
                (c_bin_x, c_mean, c_box_lo, c_box_hi, c_wh_lo, c_wh_hi), 279, 43)
pd_ = make_panel("(d)", "ddQTcF (ms)", "VP 44469 plasma concentration (\u00b5g/mL)", (-0.0916, 6.595), vp_ticks,
                 [d_dense, d_dense2], [d_low, d_high], (d_reg_x, d_reg_y, d_reg_lo, d_reg_hi),
                 (d_bin_x, d_mean, d_box_lo, d_box_hi, d_wh_lo, d_wh_hi), 282, 46)

layout = column(pa, pb, pc, pd_, spacing=0)
open("out.html", "w").write(file_html(layout, INLINE))
